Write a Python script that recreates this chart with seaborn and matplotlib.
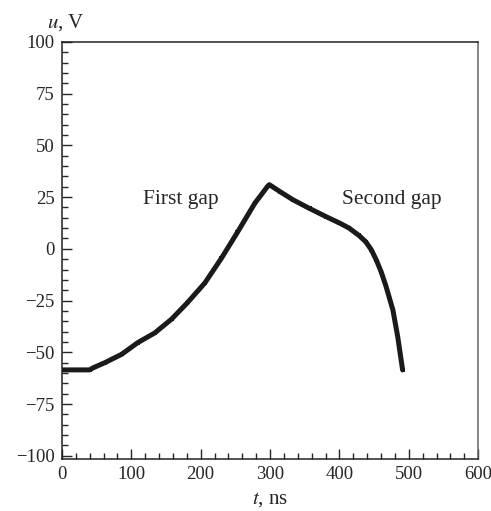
import matplotlib
matplotlib.use("Agg")
import matplotlib.pyplot as plt
import matplotlib.ticker as ticker
import seaborn as sns
import pandas as pd

# values
t_ns = [0, 20, 40, 45, 62, 86, 109, 134, 158, 181, 206, 230, 253, 278, 296, 299,
        315, 333, 357, 381, 400, 414, 428, 438, 446, 453, 460, 467, 477, 484, 491]
u_volt = [-58.5, -58.5, -58.5, -57.5, -55, -51, -45.4, -40.6, -34, -26, -16.5, -4.5, 8, 22, 30, 31,
          27.5, 23.7, 19.5, 15.5, 12.5, 10, 6.5, 3.4, -0.5, -5.3, -11, -18, -29.5, -42.5, -58.5]
x_ticks = [0, 100, 200, 300, 400, 500, 600]
y_ticks = [-100, -75, -50, -25, 0, 25, 50, 75, 100]
annotations = [("First gap", 172, 24), ("Second gap", 476, 24)]

sns.set_style("ticks")
plt.rcParams["font.family"] = ["Liberation Serif", "DejaVu Serif"]
plt.rcParams["mathtext.fontset"] = "stix"

df = pd.DataFrame({"t": t_ns, "u": u_volt})

fig = plt.figure(figsize=(4.91, 5.11), dpi=100)
ax = fig.add_axes([0.126, 0.102, 0.848, 0.816])

sns.lineplot(data=df, x="t", y="u", ax=ax, color="#1a1a1a", linewidth=3.6,
             marker="s", markersize=3, markeredgewidth=0, sort=False)

ax.set_xlim(0, 600)
ax.set_ylim(-101.5, 100)
ax.set_xticks(x_ticks)
ax.set_yticks(y_ticks)
ax.xaxis.set_minor_locator(ticker.MultipleLocator(20))
ax.yaxis.set_minor_locator(ticker.MultipleLocator(5))
ax.tick_params(which="both", direction="in", top=False, right=False, labelsize=13.5, pad=5)
ax.tick_params(which="major", length=7, width=1)
ax.tick_params(which="minor", length=4, width=1)
for s in ax.spines.values():
    s.set_linewidth(1.1)
    s.set_color("#222222")
ax.spines["right"].set_color("#666666")

ax.set_xlabel("")
ax.set_ylabel("")
fig.text(0.096, 0.955, r"$u$, V", fontsize=15, ha="left", va="center")
fig.text(0.55, 0.022, r"$t$, ns", fontsize=15, ha="center", va="center")

for label, tx, uy in annotations:
    ax.text(tx, uy, label, fontsize=15.5, ha="center", va="center")

fig.savefig("out.png", dpi=100)
